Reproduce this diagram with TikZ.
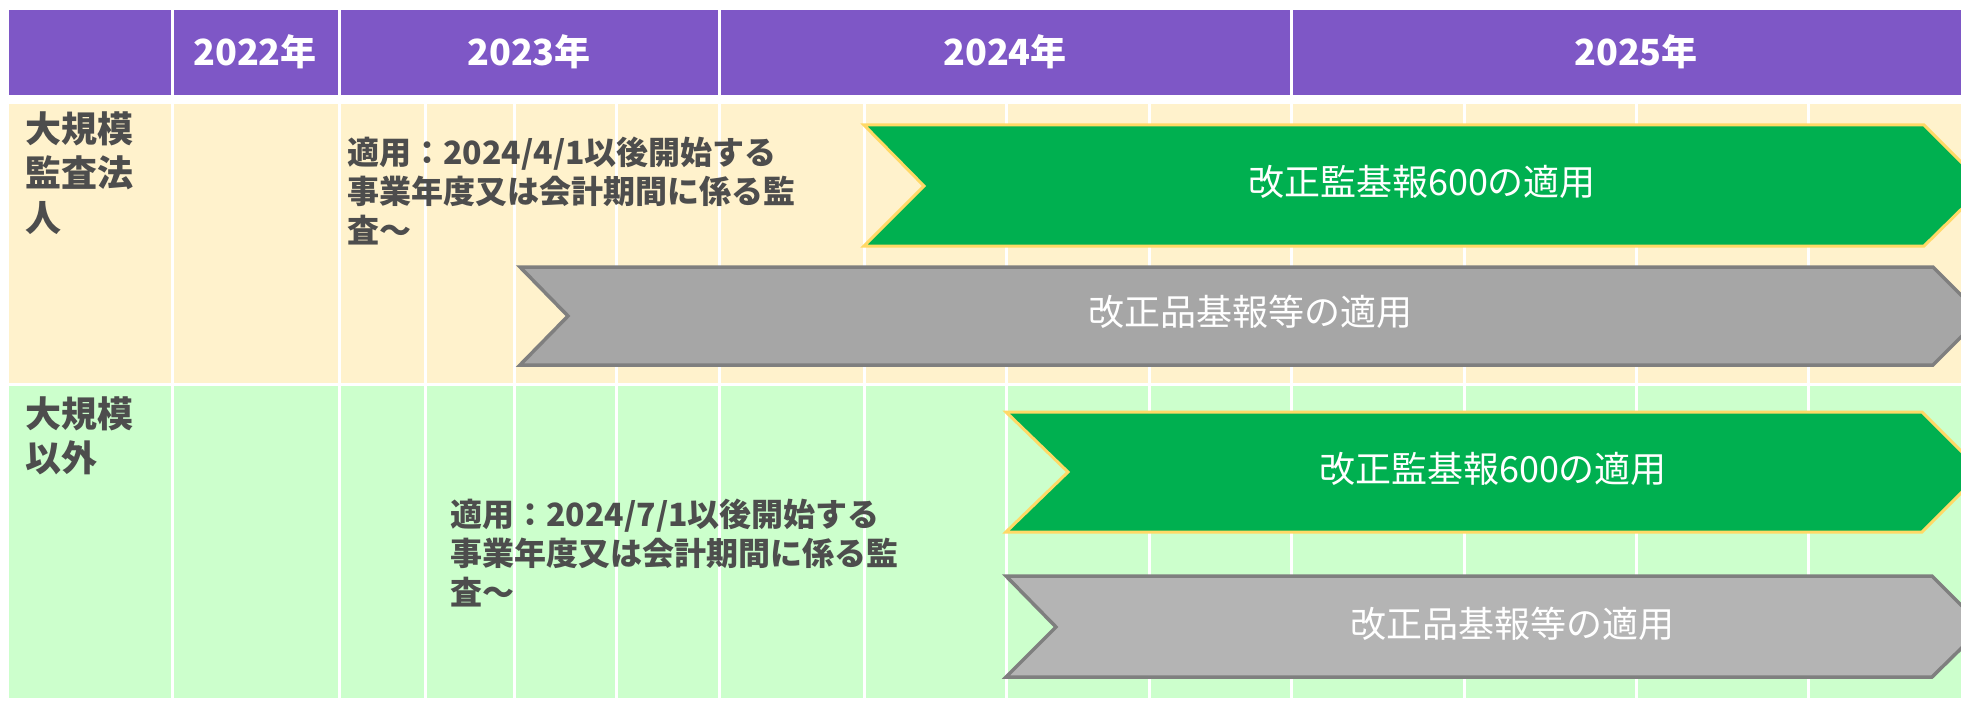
\documentclass[tikz,border=0pt]{standalone}
\usepackage{fontspec}
\setmainfont{Noto Sans CJK JP}
\definecolor{hdr}{HTML}{7E57C6}
\definecolor{rowA}{HTML}{FFF2CC}
\definecolor{rowB}{HTML}{CCFFCC}
\definecolor{grn}{HTML}{00B050}
\definecolor{gbord}{HTML}{FFD966}
\definecolor{gryA}{HTML}{A6A6A6}
\definecolor{gryB}{HTML}{B4B4B4}
\definecolor{gbd}{HTML}{7F7F7F}
\definecolor{txt}{HTML}{4D4D4D}
\begin{document}
\begin{tikzpicture}[x=0.5pt,y=-0.5pt,
  hdrtext/.style={text=white,font=\fontsize{18}{22}\selectfont\bfseries,inner sep=0pt},
  labeltext/.style={text=txt,font=\fontsize{18}{22.25}\selectfont\bfseries,align=left,anchor=north west,inner sep=0pt},
  notetext/.style={text=txt,font=\fontsize{16}{19.5}\selectfont\bfseries,align=left,anchor=north west,inner sep=0pt},
  arrowtext/.style={text=white,font=\fontsize{18}{22}\selectfont,inner sep=0pt},
  chevgreen/.style={fill=grn,draw=gbord,line width=1.5pt,line join=miter},
  chevgray/.style={draw=gbd,line width=1.75pt,line join=miter},
  gridline/.style={draw=white,line width=1.5pt}]
\useasboundingbox (0,0) rectangle (1961,701);
\fill[white] (0,0) rectangle (1961,701);
\clip (0,0) rectangle (1961,701);
% header
\fill[hdr] (9,10) rectangle (1995,95);
\foreach \x in {172,339,719,1291} \draw[gridline] (\x,10) -- (\x,95);
% rows
\fill[rowA] (9,104) rectangle (1995,383);
\fill[rowB] (9,386) rectangle (1995,698);
\foreach \x in {172,339,425,514,616,719,864,1006,1149,1291,1464,1636,1808}
  \draw[gridline] (\x,104) -- (\x,383) (\x,386) -- (\x,698);
% header texts
\node[hdrtext] (y22) at (255,52) {2022年};
\node[hdrtext] (y23) at (529,52) {2023年};
\node[hdrtext] (y24) at (1005,52) {2024年};
\node[hdrtext] (y25) at (1636,52) {2025年};
% row labels
\node[labeltext] (lab1) at (25,111) {大規模\\監査法\\人};
\node[labeltext] (lab2) at (25,396) {大規模\\以外};
% notes
\node[notetext] (note1) at (347,137) {適用：2024/4/1以後開始する\\事業年度又は会計期間に係る監\\査～};
\node[notetext] (note2) at (450,499) {適用：2024/7/1以後開始する\\事業年度又は会計期間に係る監\\査～};
% chevrons
\draw[chevgreen] (864,125) -- (1924,125) -- (1985,186) -- (1924,246) -- (864,246) -- (924,186) -- cycle;
\draw[chevgray,fill=gryA] (520,267) -- (1933,267) -- (1982,316) -- (1933,365) -- (520,365) -- (568,316) -- cycle;
\draw[chevgreen] (1006,412) -- (1922,412) -- (1982,472) -- (1922,532) -- (1006,532) -- (1068,472) -- cycle;
\draw[chevgray,fill=gryB] (1006,576) -- (1932,576) -- (1983,627) -- (1932,677) -- (1006,677) -- (1056,627) -- cycle;
% arrow texts
\node[arrowtext] (a1) at (1422,182) {改正監基報600の適用};
\node[arrowtext] (a2) at (1250,312) {改正品基報等の適用};
\node[arrowtext] (a3) at (1493,469) {改正監基報600の適用};
\node[arrowtext] (a4) at (1512,624) {改正品基報等の適用};
\end{tikzpicture}
\end{document}
